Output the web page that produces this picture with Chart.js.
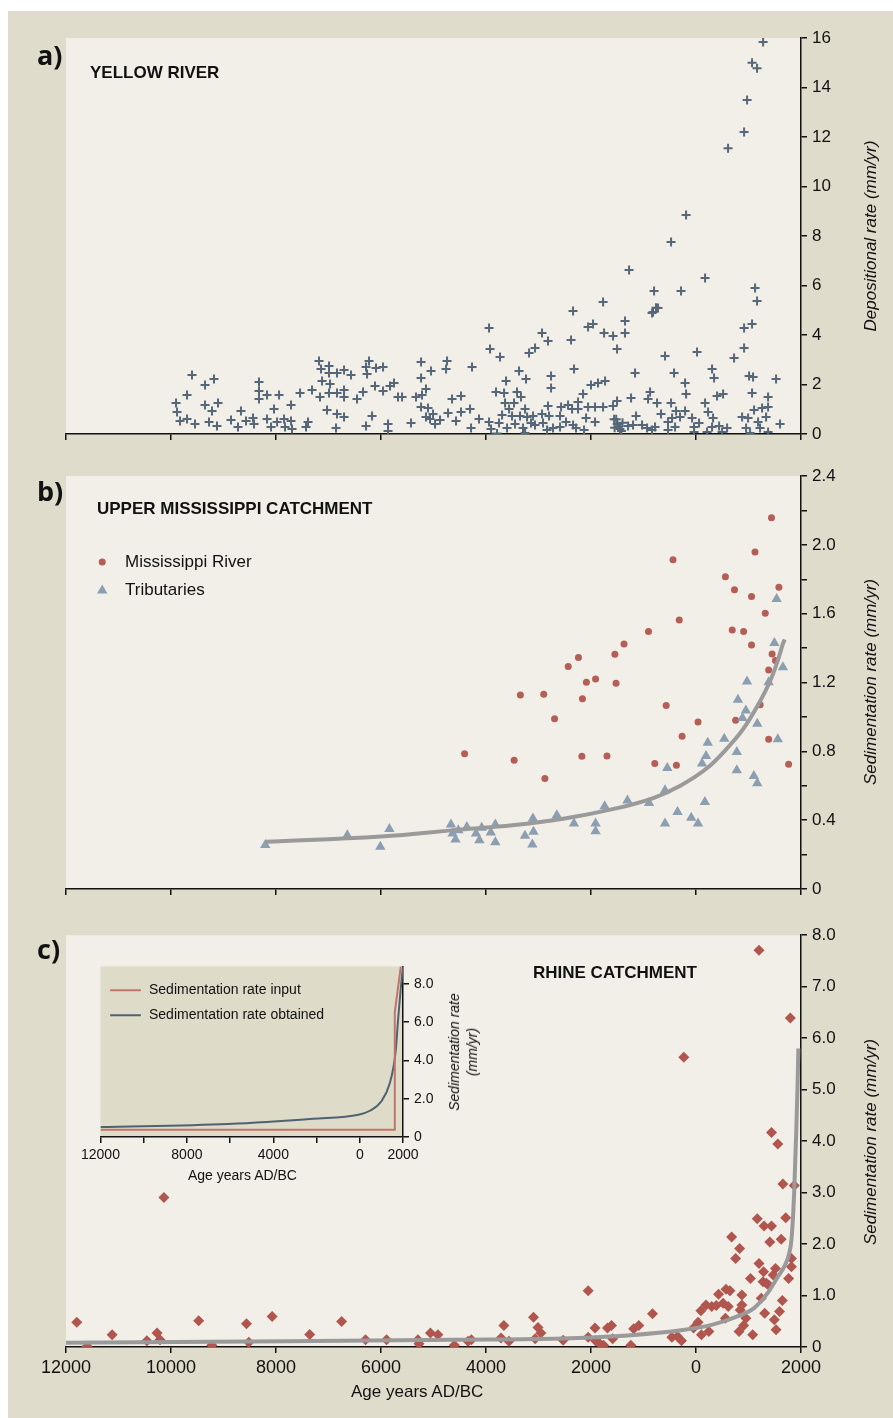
<!DOCTYPE html>
<html>
<head>
<meta charset="utf-8">
<script src="https://cdn.jsdelivr.net/npm/chart.js@4.4.1/dist/chart.umd.min.js"></script>
<style>
  body { margin: 0; background: #fff; font-family: "Liberation Sans", Arial, sans-serif; }
  #page { position: relative; width: 893px; height: 1418px; overflow: hidden; }
  #frame { position: absolute; left: 8px; top: 11px; width: 885px; height: 1407px; background: #dfdccb; }
  canvas { position: absolute; }
  .txt { position: absolute; white-space: nowrap; color: #111; }
  .letter { font-weight: bold; font-size: 27px; font-family: "Open Sans", sans-serif; }
  .title { font-weight: bold; font-size: 17px; }
  .rot { transform: translate(-50%, -50%) rotate(-90deg); font-style: italic; font-size: 17px; text-align: center; }
</style>
</head>
<body>
<div id="page">
  <div id="frame"></div>
  <canvas id="chartA" width="885" height="440" style="left:8px;top:11px;width:885px;height:440px"></canvas>
  <canvas id="chartB" width="885" height="460" style="left:8px;top:460px;width:885px;height:460px"></canvas>
  <canvas id="chartC" width="885" height="498" style="left:8px;top:920px;width:885px;height:498px"></canvas>
  <canvas id="chartInset" width="403" height="237" style="left:77px;top:953px;width:403px;height:237px"></canvas>

  <div class="txt letter" style="left:37px;top:36px">a)</div>
  <div class="txt letter" style="left:37px;top:472px">b)</div>
  <div class="txt letter" style="left:37px;top:930px">c)</div>

  <div class="txt title" style="left:90px;top:63px">YELLOW RIVER</div>
  <div class="txt title" style="left:97px;top:499px">UPPER MISSISSIPPI CATCHMENT</div>
  <div class="txt title" style="left:533px;top:963px">RHINE CATCHMENT</div>

  <div class="txt rot" style="left:871px;top:236px">Depositional rate (mm/yr)</div>
  <div class="txt rot" style="left:871px;top:682px">Sedimentation rate (mm/yr)</div>
  <div class="txt rot" style="left:871px;top:1142px">Sedimentation rate (mm/yr)</div>
  <div class="txt rot" style="left:463px;top:1052px;font-size:14px;line-height:18px">Sedimentation rate<br>(mm/yr)</div>

  <div class="txt" style="left:125px;top:552px;font-size:17px">Mississippi River</div>
  <div class="txt" style="left:125px;top:580px;font-size:17px">Tributaries</div>
  <div class="txt" style="left:149px;top:981px;font-size:14px">Sedimentation rate input</div>
  <div class="txt" style="left:149px;top:1006px;font-size:14px">Sedimentation rate obtained</div>
  <div class="txt" style="left:188px;top:1167px;font-size:14px">Age years AD/BC</div>
  <div class="txt" style="left:351px;top:1382px;font-size:17px">Age years AD/BC</div>
</div>
<script>
// years: negative = BC, positive = AD
const yellowYears = [
  -9352,-9600,-9695,-9904,-9885,-9828,-9695,-9543,-9181,-9352,-9219,-9104,-9276,-9124,-8857,-8724,-8667,-8571,-8438,-8419,
  -8324,-8324,-8324,-8171,-8038,-7942,-8171,-8095,-7980,-7847,-7828,-7714,-7714,-7695,-7542,-7428,-7390,-7314,-7181,-7142,
  -7123,-7162,-6990,-6990,-6971,-6990,-7028,-6838,-6838,-6838,-6857,-6704,-6571,-6704,-6704,-6704,-6457,-6342,-6285,-6228,
  -6266,-6095,-5961,-6114,-5961,-5828,-5752,-5676,-6171,-6285,-5866,-5866,
  -5599,-5428,-5237,-5237,-5333,-5219,-5143,-5237,-5105,-5009,-5143,-5066,-4971,-4876,-5047,-4742,-4761,-4647,-4476,-4723,
  -4476,-4571,-4304,-4266,-4133,-4285,-3942,-3923,-3733,-3942,-3904,-3809,-3656,-3618,-3790,-3752,-3694,-3637,-3561,-3466,
  -3599,-3447,-3504,-3371,-3409,-3333,-3352,-3295,-3256,-3238,-3256,-3180,-3066,-3218,-3142,-3104,-3066,-2933,-2933,-2819,
  -2761,-2761,-2819,-2914,-2837,-2723,-2799,-2570,-2590,-2476,-2590,-2437,-2361,-2380,-2323,-2342,-2247,-2247,-2151,-2094,
  -2056,-2342,-2285,-2132,-2000,-1866,-2056,-1961,-1923,-1923,
  -1751,-1580,-1352,-1352,-1504,-837,-761,-1770,-1732,-1580,-1504,-1161,-1237,-1142,
  -1560,-1500,-1450,-1400,-1480,-1550,-1420,-1520,-1294,-1199,-1028,-932,-837,-780,-875,-913,-742,-666,-590,-533,
  -475,-418,-380,-399,-456,-533,-304,-208,-189,-208,-75,20,-37,58,-37,173,230,306,344,325,
  306,440,401,516,592,497,211,725,916,916,1068,878,992,1011,1068,1106,1259,1373,1373,1335,
  1182,954,1030,1220,1373,1525,1601,1087,
  1278,1068,1163,973,916,611,-189,-475,-1275,173,-799,-285,1125,1163,-818,-723,-1770
];
const yellowRates = [
  1.98,2.38,1.58,1.25,0.89,0.53,0.61,0.40,2.22,1.17,0.93,1.25,0.48,0.32,0.57,0.28,0.93,0.53,0.65,0.40,
  2.10,1.74,1.41,1.58,1.01,1.58,0.61,0.28,0.48,0.61,0.28,1.17,0.53,0.20,1.66,0.28,0.48,1.78,2.95,2.63,
  2.14,1.49,2.75,2.46,2.02,1.66,0.97,2.46,1.66,0.81,0.24,2.59,2.38,1.78,1.49,0.69,1.41,1.70,2.71,2.95,
  2.42,2.67,2.71,1.94,1.74,1.94,2.06,1.49,0.73,0.32,0.40,0.12,
  1.49,0.44,2.91,2.26,1.49,1.58,1.82,1.09,1.05,0.81,0.69,0.61,0.40,0.57,2.55,2.95,2.63,1.41,1.54,0.85,
  0.89,0.53,1.01,2.71,0.61,0.24,4.28,3.43,3.11,0.48,0.20,1.70,1.66,2.14,0.02,0.44,0.77,1.25,1.01,1.25,
  0.24,0.40,0.73,2.55,1.70,1.49,0.73,0.24,1.01,2.22,0.04,3.27,3.47,0.69,0.44,0.73,0.36,4.08,0.81,3.76,
  2.34,1.86,1.13,0.44,0.16,0.24,0.73,1.09,0.73,0.48,0.28,1.17,1.01,3.80,2.63,4.97,1.29,1.01,1.62,0.65,
  1.09,0.36,0.24,0.16,1.98,2.06,4.32,4.44,1.09,0.48,
  4.08,3.96,4.08,4.57,3.43,4.89,5.10,1.09,2.14,1.13,1.33,2.46,1.45,0.73,
  0.60,0.40,0.20,0.45,0.30,0.25,0.12,0.60,0.32,0.36,0.36,0.24,0.16,0.28,1.70,1.41,1.25,0.81,3.15,0.48,
  1.25,2.46,0.93,0.28,0.65,0.16,0.69,2.06,1.62,0.93,0.65,3.31,0.28,0.44,0.08,1.25,0.89,2.63,2.26,0.65,
  0.28,0.32,1.54,1.62,0.24,0.08,0.08,3.07,3.47,4.28,4.44,0.69,0.65,2.34,1.66,0.97,1.05,1.09,1.49,0.69,
  0.48,0.24,0.04,0.24,0.08,2.22,0.40,2.30,
  15.84,15.0,14.78,13.5,12.2,11.55,8.85,7.76,6.63,6.30,5.78,5.78,5.90,5.37,4.93,5.09,5.33
];

const missYears = [-4408,-3464,-3345,-2900,-2878,-2694,-2434,-2239,-2163,-2087,-2174,-1913,-1545,-1523,-1696,-1371,-905,-785,-568,-438,
  -319,-373,-265,39,560,690,733,907,1058,1058,755,1124,1221,1319,1384,1438,1449,1514,1579,1384,1764];
const missRates = [0.786,0.748,1.128,1.132,0.642,0.989,1.293,1.345,1.105,1.202,0.771,1.221,1.364,1.196,0.773,1.424,1.496,0.729,1.067,1.913,
  1.563,0.719,0.887,0.97,1.815,1.505,1.739,1.496,1.70,1.418,0.98,1.959,1.071,1.602,1.273,2.158,1.366,1.328,1.753,0.87,0.725];

const tribYears = [-8204,-6642,-6013,-5840,-4668,-4636,-4581,-4527,-4364,-4190,-4126,-4082,-3909,-3822,-3822,-3258,-3106,-3095,-3117,-2651,
  -2325,-1913,-1913,-1740,-1306,-894,-590,-590,-547,-352,-91,39,115,191,224,169,538,777,777,799,
  885,950,972,1102,1167,1167,1384,1493,1536,1558,1655];
const tribRates = [0.255,0.313,0.245,0.348,0.375,0.323,0.288,0.342,0.361,0.323,0.284,0.356,0.329,0.375,0.271,0.309,0.41,0.332,0.259,0.429,
  0.381,0.381,0.336,0.481,0.514,0.5,0.574,0.381,0.703,0.448,0.414,0.381,0.729,0.773,0.85,0.506,0.873,0.796,0.69,1.10,
  0.993,1.038,1.206,0.657,0.614,0.96,1.202,1.43,1.685,0.87,1.289];

const fitBYears = [-8200,-6000,-4500,-3500,-2500,-1500,-800,-300,200,600,900,1200,1400,1550,1650,1690];
const fitBRates = [0.274,0.305,0.345,0.37,0.41,0.47,0.53,0.6,0.7,0.82,0.93,1.08,1.2,1.32,1.42,1.45];

const rhineYears = [-11794,-11599,-11121,-10460,-10265,-10210,-10134,-9473,-9223,-8562,-8518,-8074,-7358,-6750,-6295,-5894,-5297,-5276,-5058,-4917,
  -4603,-4343,-4278,-3660,-3714,-3562,-3095,-3009,-3063,-2955,-2531,-2054,-2054,-1924,-1913,-1826,-1761,-1686,-1610,-1588,
  -1241,-1187,-1089,-829,-460,-351,-276,-232,-48,39,93,104,191,245,300,386,430,517,560,571,
  647,614,679,755,831,820,842,874,874,907,950,1037,1080,1167,1200,1243,1276,1287,1297,1308,
  1341,1384,1406,1438,1438,1470,1492,1514,1525,1558,1590,1623,1644,1655,1709,1764,1818,1818,1796,1872,1200];
const rhineRates = [0.483,0.013,0.238,0.122,0.27,0.142,2.905,0.509,0.032,0.451,0.09,0.593,0.245,0.496,0.142,0.142,0.142,0.064,0.27,0.238,
  0.032,0.11,0.142,0.419,0.174,0.11,0.58,0.38,0.161,0.27,0.129,1.095,0.187,0.367,0.122,0.058,0.032,0.367,0.419,0.161,
  0.032,0.354,0.419,0.644,0.187,0.206,0.122,5.63,0.367,0.483,0.702,0.238,0.818,0.303,0.786,0.805,1.024,0.85,0.56,1.12,
  1.095,0.786,2.138,1.72,1.913,0.303,0.721,1.011,0.818,0.419,0.56,1.333,0.238,2.493,1.623,0.947,1.269,1.462,2.351,0.657,
  1.237,1.205,2.042,2.351,4.167,1.398,0.528,1.527,0.335,3.942,0.689,2.093,0.902,3.169,2.512,1.333,1.559,1.72,6.39,3.137,7.71];

const fitCYears = [-12000,-7800,-4600,-2400,-1300,-250,300,850,1100,1380,1550,1700,1770,1820,1870,1910,1935,1950];
const fitCRates = [0.084,0.11,0.14,0.17,0.225,0.33,0.43,0.62,0.75,1.07,1.35,1.6,1.8,2.1,3.0,4.2,5.1,5.8];

const insetInputYears = [-12000,1620,1620,1900];
const insetInputRates = [0.38,0.38,6.5,8.9];
const insetObtainedYears = [-12000,-6100,-2160,-60,466,990,1387,1650,1783,1900,2000];
const insetObtainedRates = [0.52,0.675,0.95,1.16,1.37,1.85,2.8,4.36,6.27,7.8,8.9];

const xTicksInset = [-12000,-8000,-4000,0,2000];

function pts(xs, ys) { return xs.map((x, i) => ({ x: x, y: ys[i] })); }

const panelBg = {
  id: "panelBg",
  beforeDraw(chart, args, opts) {
    const a = chart.chartArea, ctx = chart.ctx;
    ctx.save();
    ctx.fillStyle = opts.color;
    ctx.fillRect(a.left, a.top, a.right - a.left, a.bottom - a.top);
    ctx.restore();
  }
};
Chart.register(panelBg);

function xAxis(showLabels, height, fontSize, tickList) {
  return {
    type: "linear", min: -12000, max: 2000,
    afterFit(s) { s.height = height; },
    ticks: {
      stepSize: 2000, color: "#111", padding: 4, maxRotation: 0, autoSkip: false,
      font: { size: fontSize, family: "Liberation Sans" },
      callback(v) {
        if (!showLabels) return "";
        if (tickList && tickList.indexOf(v) < 0) return "";
        return String(Math.abs(v));
      }
    },
    grid: { drawOnChartArea: false, drawTicks: true, tickLength: 6, color: "#111", lineWidth: 1.5 },
    border: { color: "#111", width: 1.5 }
  };
}

function yAxis(max, step, width, fontSize, labelFn) {
  return {
    type: "linear", position: "right", min: 0, max: max,
    afterFit(s) { s.width = width; },
    ticks: { stepSize: step, color: "#111", padding: 5, font: { size: fontSize, family: "Liberation Sans" }, callback: labelFn },
    grid: { drawOnChartArea: false, drawTicks: true, tickLength: 6, color: "#111", lineWidth: 1.5 },
    border: { color: "#111", width: 1.5 }
  };
}

function baseOptions(pad, xs, ys, bg) {
  return {
    responsive: false, animation: false,
    layout: { padding: pad },
    plugins: { legend: { display: false }, tooltip: { enabled: false }, panelBg: { color: bg } },
    scales: { x: xs, y: ys }
  };
}

const PANEL = "#f1efe7";

new Chart(document.getElementById("chartA"), {
  type: "scatter",
  data: { datasets: [{
    data: pts(yellowYears, yellowRates),
    pointStyle: "cross", pointRadius: 4.5, borderWidth: 2, borderColor: "#556778", backgroundColor: "#556778"
  }] },
  options: baseOptions({ left: 58, top: 27, right: 0, bottom: 0 },
    xAxis(false, 17, 17),
    yAxis(16, 2, 92, 17, v => String(v)), PANEL)
});

new Chart(document.getElementById("chartB"), {
  type: "scatter",
  data: { datasets: [
    { type: "line", data: pts(fitBYears, fitBRates), borderColor: "#9a9a9a", borderWidth: 4, pointRadius: 0, tension: 0.4, fill: false },
    { data: pts(tribYears, tribRates), pointStyle: "triangle", pointRadius: 6, borderWidth: 0, backgroundColor: "#8c9eb2" },
    { data: pts(missYears, missRates), pointStyle: "circle", pointRadius: 3.5, borderWidth: 0, backgroundColor: "#b45e57" },
    { data: [{ x: -11310, y: 1.9 }], pointStyle: "circle", pointRadius: 3.5, borderWidth: 0, backgroundColor: "#b45e57" },
    { data: [{ x: -11310, y: 1.735 }], pointStyle: "triangle", pointRadius: 6, borderWidth: 0, backgroundColor: "#8c9eb2" }
  ] },
  options: baseOptions({ left: 58, top: 16, right: 0, bottom: 0 },
    xAxis(false, 31, 17),
    yAxis(2.4, 0.2, 92, 17, v => {
      const k = Math.round(v * 10);
      if (k % 4 !== 0) return "";
      return k === 0 ? "0" : (k / 10).toFixed(1);
    }), PANEL)
});

new Chart(document.getElementById("chartC"), {
  type: "scatter",
  data: { datasets: [
    { type: "line", data: pts(fitCYears, fitCRates), borderColor: "#9a9a9a", borderWidth: 4, pointRadius: 0, tension: 0.4, cubicInterpolationMode: "monotone", fill: false },
    { data: pts(rhineYears, rhineRates), pointStyle: "rectRot", pointRadius: 5.5, borderWidth: 0, backgroundColor: "#b0564f" }
  ] },
  options: baseOptions({ left: 58, top: 15, right: 0, bottom: 0 },
    xAxis(true, 71, 18),
    yAxis(8, 1, 92, 17, v => v === 0 ? "0" : v.toFixed(1)), PANEL)
});

new Chart(document.getElementById("chartInset"), {
  type: "line",
  data: { datasets: [
    { data: pts(insetInputYears, insetInputRates), borderColor: "#c0746a", borderWidth: 2, pointRadius: 0, tension: 0 },
    { data: pts(insetObtainedYears, insetObtainedRates), borderColor: "#4f6272", borderWidth: 2, pointRadius: 0, tension: 0.4, cubicInterpolationMode: "monotone" },
    { data: [{ x: -11550, y: 7.65 }, { x: -10130, y: 7.65 }], borderColor: "#c0746a", borderWidth: 2, pointRadius: 0 },
    { data: [{ x: -11550, y: 6.35 }, { x: -10130, y: 6.35 }], borderColor: "#4f6272", borderWidth: 2, pointRadius: 0 }
  ] },
  options: baseOptions({ left: 10, top: 6, right: 0, bottom: 0 },
    xAxis(true, 53, 14, xTicksInset),
    yAxis(8.9, 1, 77, 14, v => (v % 2 === 0) ? (v === 0 ? "0" : v.toFixed(1)) : ""), "#dedbc9")
});
</script>
</body>
</html>
